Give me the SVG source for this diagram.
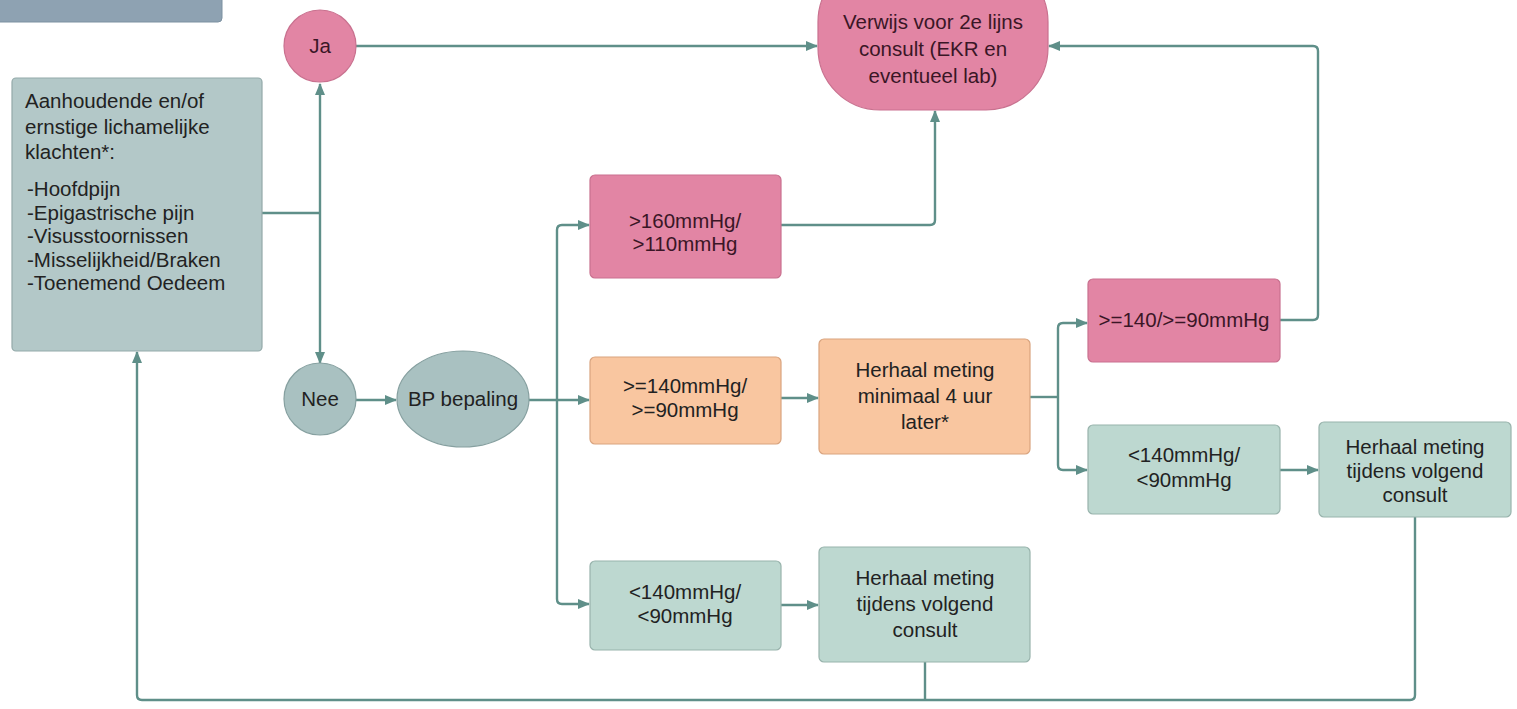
<svg xmlns="http://www.w3.org/2000/svg" width="1517" height="709" viewBox="0 0 1517 709">
<style>
text{font-family:"Liberation Sans",Arial,sans-serif;font-size:20.5px;fill:#222222;}
.c{text-anchor:middle;}
.pk text{fill:#3a1626;}
.pink{fill:#e285a4;stroke:#c9718f;stroke-width:1.2;}
.org{fill:#f9c6a0;stroke:#d9a47f;stroke-width:1.2;}
.teal{fill:#bdd8d0;stroke:#98b3ac;stroke-width:1.2;}
.grey{fill:#b3c8c8;stroke:#93a9a9;stroke-width:1.2;}
.oval{fill:#a9c1c1;stroke:#86a0a0;stroke-width:1.2;}
.ln{fill:none;stroke:#5f8f89;stroke-width:2.4;stroke-linejoin:round;}
.ar{marker-end:url(#ah);}
</style>
<defs>
<marker id="ah" viewBox="0 0 12 10" refX="11" refY="5" markerWidth="12" markerHeight="10" markerUnits="userSpaceOnUse" orient="auto">
<path d="M0,0 L12,5 L0,10 Z" fill="#5f8f89"/>
</marker>
</defs>
<rect x="0" y="0" width="1517" height="709" fill="#ffffff"/>

<g id="connectors">
<path class="ln" d="M262,213 H320"/>
<path class="ln ar" d="M320,213 V84"/>
<path class="ln ar" d="M320,213 V363"/>
<path class="ln ar" d="M356,46 H817"/>
<path class="ln ar" d="M355,400 H396"/>
<path class="ln ar" d="M529,400 H589"/>
<path class="ln ar" d="M557,400 V230 Q557,225 562,225 H589"/>
<path class="ln ar" d="M557,400 V599 Q557,604 562,604 H589"/>
<path class="ln ar" d="M781,225 H930 Q935,225 935,220 V111"/>
<path class="ln ar" d="M781,398 H818"/>
<path class="ln ar" d="M781,605 H818"/>
<path class="ln" d="M1030,397 H1058"/>
<path class="ln ar" d="M1058,397 V328 Q1058,323 1063,323 H1087"/>
<path class="ln ar" d="M1058,397 V465 Q1058,470 1063,470 H1087"/>
<path class="ln ar" d="M1280,320 H1313 Q1318,320 1318,315 V51 Q1318,46 1313,46 H1049"/>
<path class="ln ar" d="M1280,470 H1318"/>
<path class="ln ar" d="M1415,517 V695 Q1415,700 1410,700 H142 Q137,700 137,695 V352"/>
<path class="ln" d="M925,662 V700"/>
</g>

<g id="header-box"><rect x="-6" y="-6" width="228" height="28" rx="4" fill="#8ea2b2" stroke="#7d91a1" stroke-width="1"/></g>

<g id="klachten">
<rect class="grey" x="12" y="78" width="250" height="273" rx="4"/>
<text x="25" y="108">Aanhoudende en/of</text>
<text x="25" y="134">ernstige lichamelijke</text>
<text x="25" y="159">klachten*:</text>
<text x="27" y="196">-Hoofdpijn</text>
<text x="27" y="220">-Epigastrische pijn</text>
<text x="27" y="243">-Visusstoornissen</text>
<text x="27" y="267">-Misselijkheid/Braken</text>
<text x="27" y="290">-Toenemend Oedeem</text>
</g>

<g id="ja" class="pk"><circle class="pink" cx="320" cy="46" r="36"/><text class="c" x="320" y="53">Ja</text></g>

<g id="verwijs" class="pk">
<rect class="pink" x="818" y="-40" width="230" height="150" rx="62"/>
<text class="c" x="933" y="29">Verwijs voor 2e lijns</text>
<text class="c" x="933" y="56">consult (EKR en</text>
<text class="c" x="933" y="83">eventueel lab)</text>
</g>

<g id="nee"><circle class="oval" cx="320" cy="399" r="36"/><text class="c" x="320" y="406">Nee</text></g>

<g id="bp"><ellipse class="oval" cx="463" cy="399" rx="66" ry="48"/><text class="c" x="463" y="406">BP bepaling</text></g>

<g id="hoog160" class="pk">
<rect class="pink" x="590" y="175" width="191" height="103" rx="5"/>
<text class="c" x="685" y="228">&gt;160mmHg/</text>
<text class="c" x="685" y="251">&gt;110mmHg</text>
</g>

<g id="hoog140">
<rect class="org" x="590" y="357" width="191" height="87" rx="5"/>
<text class="c" x="685" y="393">&gt;=140mmHg/</text>
<text class="c" x="685" y="417">&gt;=90mmHg</text>
</g>

<g id="herhaal4uur">
<rect class="org" x="819" y="339" width="211" height="115" rx="5"/>
<text class="c" x="925" y="377">Herhaal meting</text>
<text class="c" x="925" y="403">minimaal 4 uur</text>
<text class="c" x="925" y="429">later*</text>
</g>

<g id="hoog140b" class="pk">
<rect class="pink" x="1088" y="279" width="192" height="83" rx="5"/>
<text class="c" x="1184" y="327">&gt;=140/&gt;=90mmHg</text>
</g>

<g id="laag140b">
<rect class="teal" x="1088" y="425" width="192" height="89" rx="5"/>
<text class="c" x="1184" y="462">&lt;140mmHg/</text>
<text class="c" x="1184" y="487">&lt;90mmHg</text>
</g>

<g id="herhaalvolgend2">
<rect class="teal" x="1319" y="422" width="192" height="95" rx="5"/>
<text class="c" x="1415" y="454">Herhaal meting</text>
<text class="c" x="1415" y="478">tijdens volgend</text>
<text class="c" x="1415" y="502">consult</text>
</g>

<g id="laag140">
<rect class="teal" x="590" y="561" width="191" height="89" rx="5"/>
<text class="c" x="685" y="599">&lt;140mmHg/</text>
<text class="c" x="685" y="623">&lt;90mmHg</text>
</g>

<g id="herhaalvolgend1">
<rect class="teal" x="819" y="547" width="211" height="115" rx="5"/>
<text class="c" x="925" y="585">Herhaal meting</text>
<text class="c" x="925" y="611">tijdens volgend</text>
<text class="c" x="925" y="637">consult</text>
</g>
</svg>
